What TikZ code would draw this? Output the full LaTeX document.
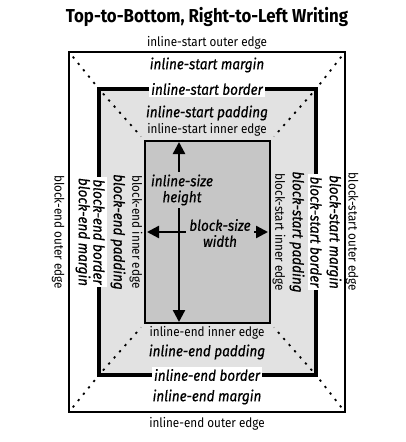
\documentclass[tikz,border=0pt]{standalone}
\usepackage{fontspec}
\setmainfont{Fira Sans}[FakeStretch=0.9]
\newfontfamily\areafont{Fira Sans}[FakeStretch=0.9, FakeBold=0.7]
\usetikzlibrary{arrows.meta}
\definecolor{paddinggray}{HTML}{E2E2E2}
\definecolor{contentgray}{HTML}{C6C6C6}
\tikzset{
  titlelabel/.style={font=\fontsize{18.7}{20}\selectfont\bfseries},
  edgelabel/.style={font=\fontsize{13}{14}\selectfont, inner sep=1pt},
  arealabel/.style={font=\areafont\fontsize{15}{16}\selectfont\itshape, inner sep=1pt},
  borderlabel/.style={arealabel, fill=white, inner sep=2.5pt},
  sizelabel/.style={arealabel, fill=contentgray, align=center, inner sep=3pt},
  guide/.style={line width=1.8pt, dash pattern=on 2.2pt off 6pt, shorten <=6pt, shorten >=6pt},
  sizearrow/.style={{Triangle[length=12pt,width=12pt]}-{Triangle[length=12pt,width=12pt]}, line width=2.4pt}
}
\begin{document}
\begin{tikzpicture}[x=1pt,y=-1pt]
  \useasboundingbox (0,0) rectangle (405,442);

  % Box corners
  \coordinate (O1) at (69,52);
  \coordinate (O2) at (345,412);
  \coordinate (B1) at (99,89);
  \coordinate (B2) at (316,375);
  \coordinate (C1) at (145,141);
  \coordinate (C2) at (270,323);

  % Draw boxes
  \draw[line width=1.8pt] (O1) rectangle (O2);
  \draw[line width=3.5pt, fill=paddinggray] (B1) rectangle (B2);
  \draw[line width=1.6pt, fill=contentgray] (C1) rectangle (C2);

  % Dotted guides
  \draw[guide] (O1) -- (B1);
  \draw[guide] (B1) -- (C1);
  \draw[guide] (O2 |- O1) -- (B2 |- B1);
  \draw[guide] (B2 |- B1) -- (C2 |- C1);
  \draw[guide] (O1 |- O2) -- (B1 |- B2);
  \draw[guide] (B1 |- B2) -- (C1 |- C2);
  \draw[guide] (O2) -- (B2);
  \draw[guide] (B2) -- (C2);

  % Size arrows
  \coordinate (V1) at (179,142);
  \coordinate (V2) at (179,322);
  \coordinate (H1) at (147,232);
  \coordinate (H2) at (268,232);
  \draw[sizearrow] (V1) -- (V2);
  \draw[sizearrow] (H1) -- (H2);
  \node[sizelabel] (isize) at (182,190) {inline-size\\height};
  \node[sizelabel] (bsize) at (220,233) {block-size\\width};

  % Title
  \node[titlelabel] (title) at (207,17) {Top-to-Bottom, Right-to-Left Writing};

  % Inline-start labels
  \node[edgelabel] (isouter) at (207,43) {inline-start outer edge};
  \node[arealabel] (ismargin) at (207,65) {inline-start margin};
  \node[borderlabel] (isborder) at (207,89) {inline-start border};
  \node[arealabel] (ispadding) at (207,113) {inline-start padding};
  \node[edgelabel] (isinner) at (207,130) {inline-start inner edge};

  % Inline-end labels
  \node[edgelabel] (ieinner) at (207,333) {inline-end inner edge};
  \node[arealabel] (iepadding) at (207,352) {inline-end padding};
  \node[borderlabel] (ieborder) at (207,375) {inline-end border};
  \node[arealabel] (iemargin) at (207,397) {inline-end margin};
  \node[edgelabel] (ieouter) at (207,424) {inline-end outer edge};

  % Block-end labels
  \node[edgelabel, rotate=-90] (beouter) at (58,232) {block-end outer edge};
  \node[arealabel, rotate=-90] (bemargin) at (83,232) {block-end margin};
  \node[borderlabel, rotate=-90] (beborder) at (99,232) {block-end border};
  \node[arealabel, rotate=-90] (bepadding) at (118,232) {block-end padding};
  \node[edgelabel, rotate=-90] (beinner) at (136,232) {block-end inner edge};

  % Block-start labels
  \node[edgelabel, rotate=-90] (bsinner) at (279,232) {block-start inner edge};
  \node[arealabel, rotate=-90] (bspadding) at (297,232) {block-start padding};
  \node[borderlabel, rotate=-90] (bsborder) at (316,232) {block-start border};
  \node[arealabel, rotate=-90] (bsmargin) at (334,232) {block-start margin};
  \node[edgelabel, rotate=-90] (bsouter) at (352,232) {block-start outer edge};
\end{tikzpicture}
\end{document}
